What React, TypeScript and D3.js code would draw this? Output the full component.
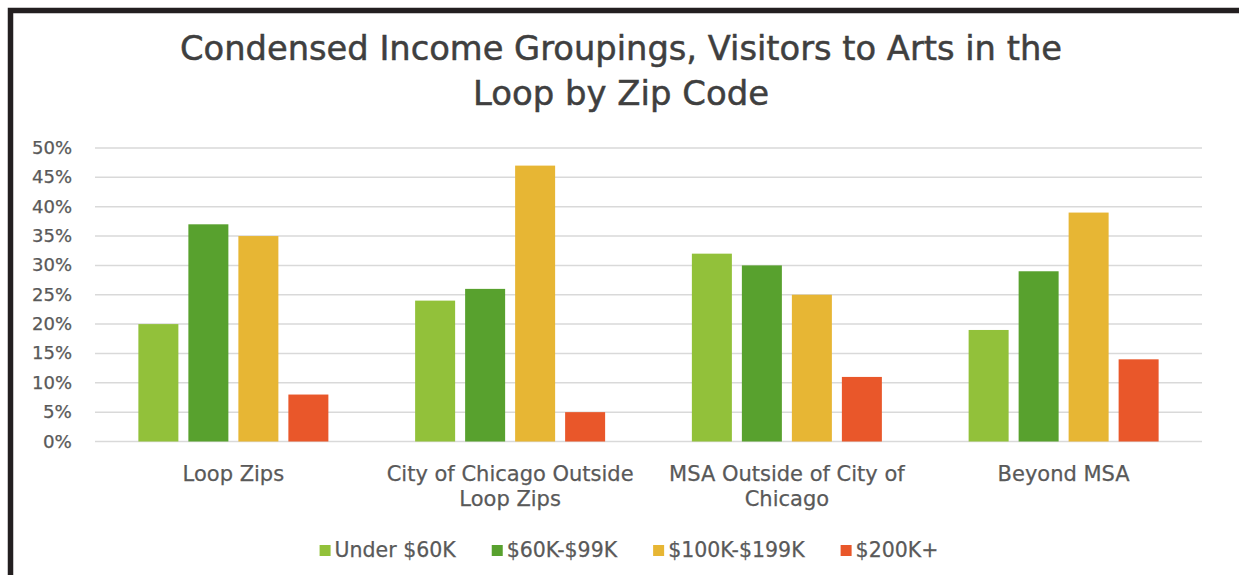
import React, { useEffect, useRef } from "react";
import * as d3 from "d3";

const categories = [
  "Loop Zips",
  "City of Chicago Outside Loop Zips",
  "MSA Outside of City of Chicago",
  "Beyond MSA",
];
const seriesNames = ["Under $60K", "$60K-$99K", "$100K-$199K", "$200K+"];
const underSixty = [0.2, 0.24, 0.32, 0.19];
const sixtyTo99 = [0.37, 0.26, 0.3, 0.29];
const hundredTo199 = [0.35, 0.47, 0.25, 0.39];
const over200 = [0.08, 0.05, 0.11, 0.14];
const seriesValues = [underSixty, sixtyTo99, hundredTo199, over200];
const seriesColors = ["#92C13A", "#58A12E", "#E7B634", "#E9572A"];
const yTicks = [0, 0.05, 0.1, 0.15, 0.2, 0.25, 0.3, 0.35, 0.4, 0.45, 0.5];
const titleLines = [
  "Condensed Income Groupings, Visitors to Arts in the",
  "Loop by Zip Code",
];

const W = 1239;
const H = 575;
const FONT = "'DejaVu Sans', Verdana, sans-serif";

function wrapWords(s: string, maxChars: number): string[] {
  const words = s.split(" ");
  const lines: string[] = [];
  let cur = "";
  for (const w of words) {
    const t = cur ? cur + " " + w : w;
    if (t.length > maxChars && cur) {
      lines.push(cur);
      cur = w;
    } else cur = t;
  }
  if (cur) lines.push(cur);
  return lines;
}

export default function App() {
  const ref = useRef<SVGSVGElement | null>(null);

  useEffect(() => {
    const svg = d3.select(ref.current!);
    svg.selectAll("*").remove();

    svg.append("rect").attr("width", W).attr("height", H).attr("fill", "#ffffff");

    // frame
    svg
      .append("path")
      .attr("d", `M10.5,${H} V10.5 H${W}`)
      .attr("fill", "none")
      .attr("stroke", "#231F20")
      .attr("stroke-width", 5.5);

    const plotLeft = 95;
    const plotRight = 1202;
    const y = d3.scaleLinear().domain([0, 0.5]).range([441.5, 148]);
    const x0 = d3.scaleBand<string>().domain(categories).range([plotLeft, plotRight]);
    const groupW = 190;
    const x1 = d3
      .scaleBand<string>()
      .domain(seriesNames)
      .range([0, groupW])
      .paddingInner(0.2);

    // title
    const titleYs = [60, 105];
    titleLines.forEach((t, i) => {
      svg
        .append("text")
        .attr("x", 621)
        .attr("y", titleYs[i])
        .attr("text-anchor", "middle")
        .attr("font-family", FONT)
        .attr("font-size", 33)
        .attr("fill", "#3F3F3F")
        .attr("stroke", "#3F3F3F")
        .attr("stroke-width", 0.5)
        .attr("textLength", i === 0 ? 882 : 296)
        .attr("lengthAdjust", "spacingAndGlyphs")
        .text(t);
    });

    // gridlines
    svg
      .append("g")
      .selectAll("line")
      .data(yTicks)
      .join("line")
      .attr("x1", plotLeft)
      .attr("x2", plotRight)
      .attr("y1", (d) => y(d))
      .attr("y2", (d) => y(d))
      .attr("stroke", "#D9D9D9")
      .attr("stroke-width", 1.5);

    // y labels
    svg
      .append("g")
      .selectAll("text")
      .data(yTicks)
      .join("text")
      .attr("x", 72)
      .attr("y", (d) => y(d) + 6)
      .attr("text-anchor", "end")
      .attr("font-family", FONT)
      .attr("font-size", 17)
      .attr("fill", "#595959")
      .attr("stroke", "#595959")
      .attr("stroke-width", 0.25)
      .attr("textLength", (d) => (d < 0.1 ? 29 : 40))
      .attr("lengthAdjust", "spacingAndGlyphs")
      .text((d) => d3.format(".0%")(d));

    // bars
    const groups = svg
      .append("g")
      .selectAll("g")
      .data(categories)
      .join("g")
      .attr(
        "transform",
        (c) => `translate(${x0(c)! + (x0.bandwidth() - groupW) / 2},0)`
      );
    groups
      .selectAll("rect")
      .data((c, ci) =>
        seriesNames.map((s, si) => ({ s, si, v: seriesValues[si][ci] }))
      )
      .join("rect")
      .attr("x", (d) => x1(d.s)!)
      .attr("width", x1.bandwidth())
      .attr("y", (d) => y(d.v))
      .attr("height", (d) => y(0) - y(d.v))
      .attr("fill", (d) => seriesColors[d.si]);

    // category labels
    categories.forEach((c) => {
      const lines = wrapWords(c, 23);
      const cx = x0(c)! + x0.bandwidth() / 2;
      lines.forEach((ln, li) => {
        svg
          .append("text")
          .attr("x", cx)
          .attr("y", 481 + li * 25)
          .attr("text-anchor", "middle")
          .attr("font-family", FONT)
          .attr("font-size", 21)
          .attr("fill", "#595959")
          .attr("stroke", "#595959")
          .attr("stroke-width", 0.25)
          .text(ln);
      });
    });

    // legend
    const leg = svg.append("g");
    const items: { g: any; w: number }[] = [];
    seriesNames.forEach((s, i) => {
      const g = leg.append("g");
      g.append("rect")
        .attr("x", 0)
        .attr("y", -12)
        .attr("width", 11)
        .attr("height", 11)
        .attr("fill", seriesColors[i]);
      const t = g
        .append("text")
        .attr("x", 15)
        .attr("y", 0)
        .attr("font-family", FONT)
        .attr("font-size", 20.5)
        .attr("fill", "#595959")
        .attr("stroke", "#595959")
        .attr("stroke-width", 0.25)
        .text(s);
      const tw = (t.node() as SVGTextElement).getComputedTextLength();
      items.push({ g, w: 15 + tw });
    });
    const gap = 36;
    const total = items.reduce((a, b) => a + b.w, 0) + gap * (items.length - 1);
    let cx = 629 - total / 2;
    items.forEach((it) => {
      it.g.attr("transform", `translate(${cx},557)`);
      cx += it.w + gap;
    });
  }, []);

  return (
    <svg
      ref={ref}
      width={W}
      height={H}
      style={{ position: "absolute", left: 0, top: 0, display: "block" }}
    />
  );
}
